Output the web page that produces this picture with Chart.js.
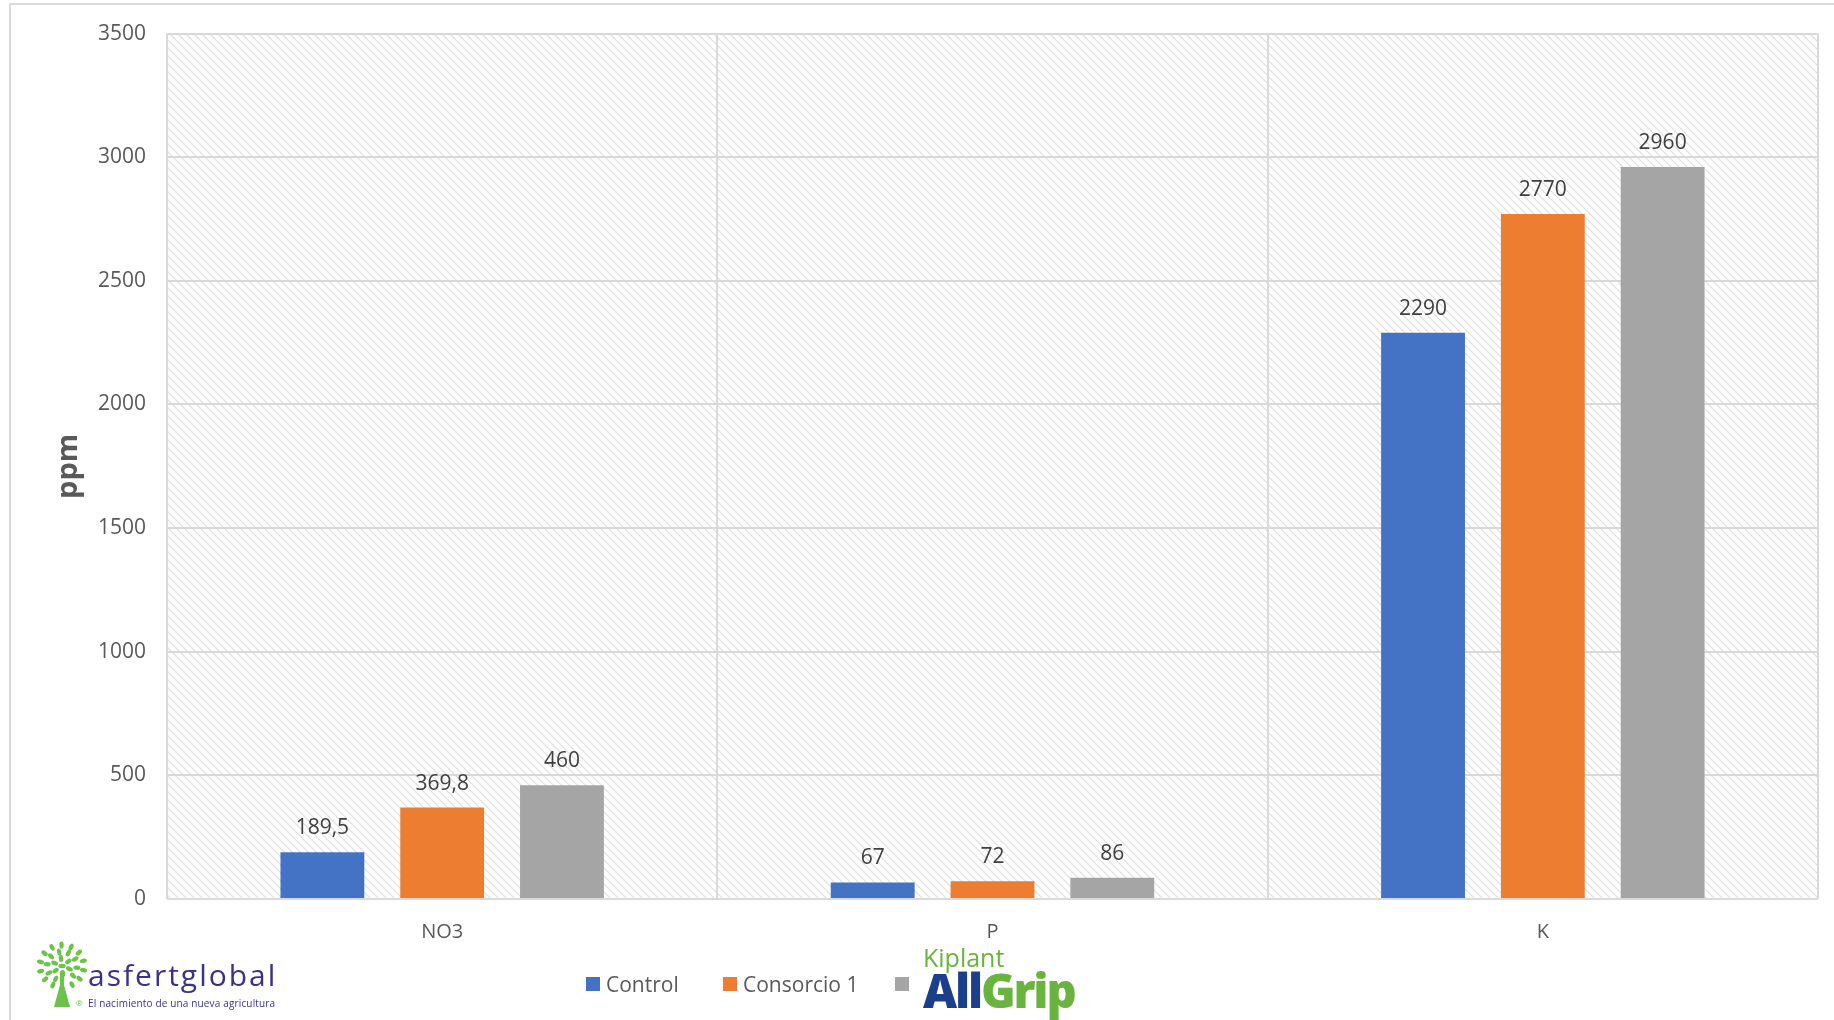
<!DOCTYPE html>
<html>
<head>
<meta charset="utf-8">
<title>ppm</title>
<script src="https://cdn.jsdelivr.net/npm/chart.js@4.4.1/dist/chart.umd.min.js"></script>
<style>
  html, body { margin: 0; padding: 0; background: #fff; }
  #wrap { position: relative; width: 1834px; height: 1020px; overflow: hidden; font-family: 'Open Sans', sans-serif; }
  #frame { position: absolute; left: 9px; top: 3px; width: 1850px; height: 1050px; border: 2px solid #d9d9d9; box-sizing: border-box; }
  #chart { position: absolute; left: 0; top: 0; }
  .key { position: absolute; top: 984px; transform: translateY(-50%); display: flex; align-items: center; font-size: 21px; color: #595959; white-space: nowrap; }
  .key i { display: inline-block; width: 14px; height: 14px; margin-right: 6px; }
  #kiplant { position: absolute; left: 923px; top: 945px; line-height: 1; }
  #kiplant .k1 { font-size: 25px; color: #6ab33e; display: block; }
  #kiplant .k2 { font-size: 47px; font-weight: 800; letter-spacing: -2.2px; display: block; margin-top: -3px; }
  #kiplant .all { color: #1b3f8b; }
  #kiplant .grip { color: #6ab33e; }
  #asfert { position: absolute; left: 35px; top: 941px; }
  #asfert canvas { position: absolute; left: 0; top: 0; }
  #asfert .name { position: absolute; left: 53px; top: 13px; font-size: 30px; letter-spacing: 2px; color: #3b3287; white-space: nowrap; }
  #asfert .tag { position: absolute; left: 53px; top: 55px; font-size: 10px; letter-spacing: 0.15px; color: #3b3287; white-space: nowrap; }
  #asfert .reg { position: absolute; left: 41px; top: 56px; font-size: 8px; color: #6cc24a; }
</style>
</head>
<body>
<div id="wrap">
  <div id="frame"></div>
  <canvas id="chart" width="1834" height="1020"></canvas>

  <div class="key" style="left:586px"><i style="background:#4472c4"></i>Control</div>
  <div class="key" style="left:723px"><i style="background:#ed7d31"></i>Consorcio 1</div>
  <div class="key" style="left:895px"><i style="background:#a5a5a5"></i></div>
  <div id="kiplant"><span class="k1">Kiplant</span><span class="k2"><span class="all">All</span><span class="grip">Grip</span></span></div>

  <div id="asfert">
    <canvas id="tree" width="56" height="68"></canvas>
    <span class="name">asfertglobal</span>
    <span class="reg">®</span>
    <span class="tag">El nacimiento de una nueva agricultura</span>
  </div>
</div>

<script>
// nutrient contents (ppm)
const categories = ['NO3', 'P', 'K'];
const controlValues = [189.5, 67, 2290];
const consorcioValues = [369.8, 72, 2770];
const allGripValues = [460, 86, 2960];

const seriesNames = ['Control', 'Consorcio 1', 'Kiplant AllGrip'];
const seriesColors = ['#4472c4', '#ed7d31', '#a5a5a5'];

const yMin = 0;
const yMax = 3500;
const yStep = 500;

Chart.defaults.font.family = "'Open Sans', sans-serif";

// diagonal hatch used behind the plot
function makeHatch() {
  const c = document.createElement('canvas');
  c.width = 8;
  c.height = 8;
  const g = c.getContext('2d');
  g.strokeStyle = '#dedede';
  g.lineWidth = 1.2;
  g.beginPath();
  g.moveTo(-1, -1); g.lineTo(9, 9);
  g.moveTo(-1, 7); g.lineTo(1, 9);
  g.moveTo(7, -1); g.lineTo(9, 1);
  g.stroke();
  return g.createPattern(c, 'repeat');
}

const hatchBackground = {
  id: 'hatchBackground',
  beforeDraw(chart) {
    const { ctx, chartArea: a } = chart;
    ctx.save();
    ctx.fillStyle = makeHatch();
    ctx.fillRect(a.left, a.top, a.right - a.left, a.bottom - a.top);
    ctx.restore();
  }
};

const fmt = v => String(v).replace('.', ',');

const valueLabels = {
  id: 'valueLabels',
  afterDatasetsDraw(chart) {
    const ctx = chart.ctx;
    ctx.save();
    ctx.font = "21px 'Open Sans'";
    ctx.fillStyle = '#404040';
    ctx.textAlign = 'center';
    ctx.textBaseline = 'alphabetic';
    chart.data.datasets.forEach((ds, i) => {
      chart.getDatasetMeta(i).data.forEach((bar, j) => {
        ctx.fillText(fmt(ds.data[j]), bar.x, bar.y - 18);
      });
    });
    ctx.restore();
  }
};

const series = [controlValues, consorcioValues, allGripValues];

new Chart(document.getElementById('chart'), {
  type: 'bar',
  data: {
    labels: categories,
    datasets: series.map((values, i) => ({
      label: seriesNames[i],
      data: values,
      backgroundColor: seriesColors[i],
      borderWidth: 0,
      categoryPercentage: 0.653,
      barPercentage: 0.7
    }))
  },
  options: {
    responsive: false,
    animation: false,
    layout: { padding: { top: 33, right: 16, bottom: 0, left: 0 } },
    plugins: {
      legend: { display: false },
      tooltip: { enabled: false }
    },
    scales: {
      x: {
        grid: { color: '#d9d9d9', lineWidth: 2, drawTicks: false },
        border: { display: false },
        ticks: { color: '#595959', font: { size: 20 }, padding: 21 },
        afterFit(scale) { scale.height = 121; }
      },
      y: {
        min: yMin,
        max: yMax,
        grid: { color: '#d9d9d9', lineWidth: 2, drawTicks: false },
        border: { display: false },
        ticks: { stepSize: yStep, color: '#595959', font: { size: 21 }, padding: 21, callback: v => String(v) },
        title: {
          display: true,
          text: 'ppm',
          color: '#595959',
          font: { size: 29, weight: 'bold' },
          padding: { top: 51, bottom: 0 }
        },
        afterFit(scale) { scale.width = 167; }
      }
    }
  },
  plugins: [hatchBackground, valueLabels]
});

// small tree mark for the company logo
(function drawTree() {
  const g = document.getElementById('tree').getContext('2d');
  g.fillStyle = '#6cc24a';
  // trunk
  g.beginPath();
  g.moveTo(19, 66); g.lineTo(35, 66);
  g.lineTo(29, 44); g.lineTo(29, 30); g.lineTo(25, 30); g.lineTo(25, 44);
  g.closePath();
  g.fill();
  // leaves in rings around the crown
  const cx = 27, cy = 25;
  const rings = [[0, 1], [8, 6], [15, 10], [22, 14]];
  rings.forEach(([r, n]) => {
    for (let k = 0; k < n; k++) {
      const t = (k / n) * Math.PI * 2 + r * 0.05;
      const x = cx + r * Math.cos(t);
      const y = cy + r * 0.95 * Math.sin(t);
      if (y > cy + 12 && Math.abs(x - cx) < 6) continue;
      g.save();
      g.translate(x, y);
      g.rotate(t);
      g.beginPath();
      g.ellipse(0, 0, 3.6, 2.2, 0, 0, Math.PI * 2);
      g.fill();
      g.restore();
    }
  });
})();
</script>
</body>
</html>
